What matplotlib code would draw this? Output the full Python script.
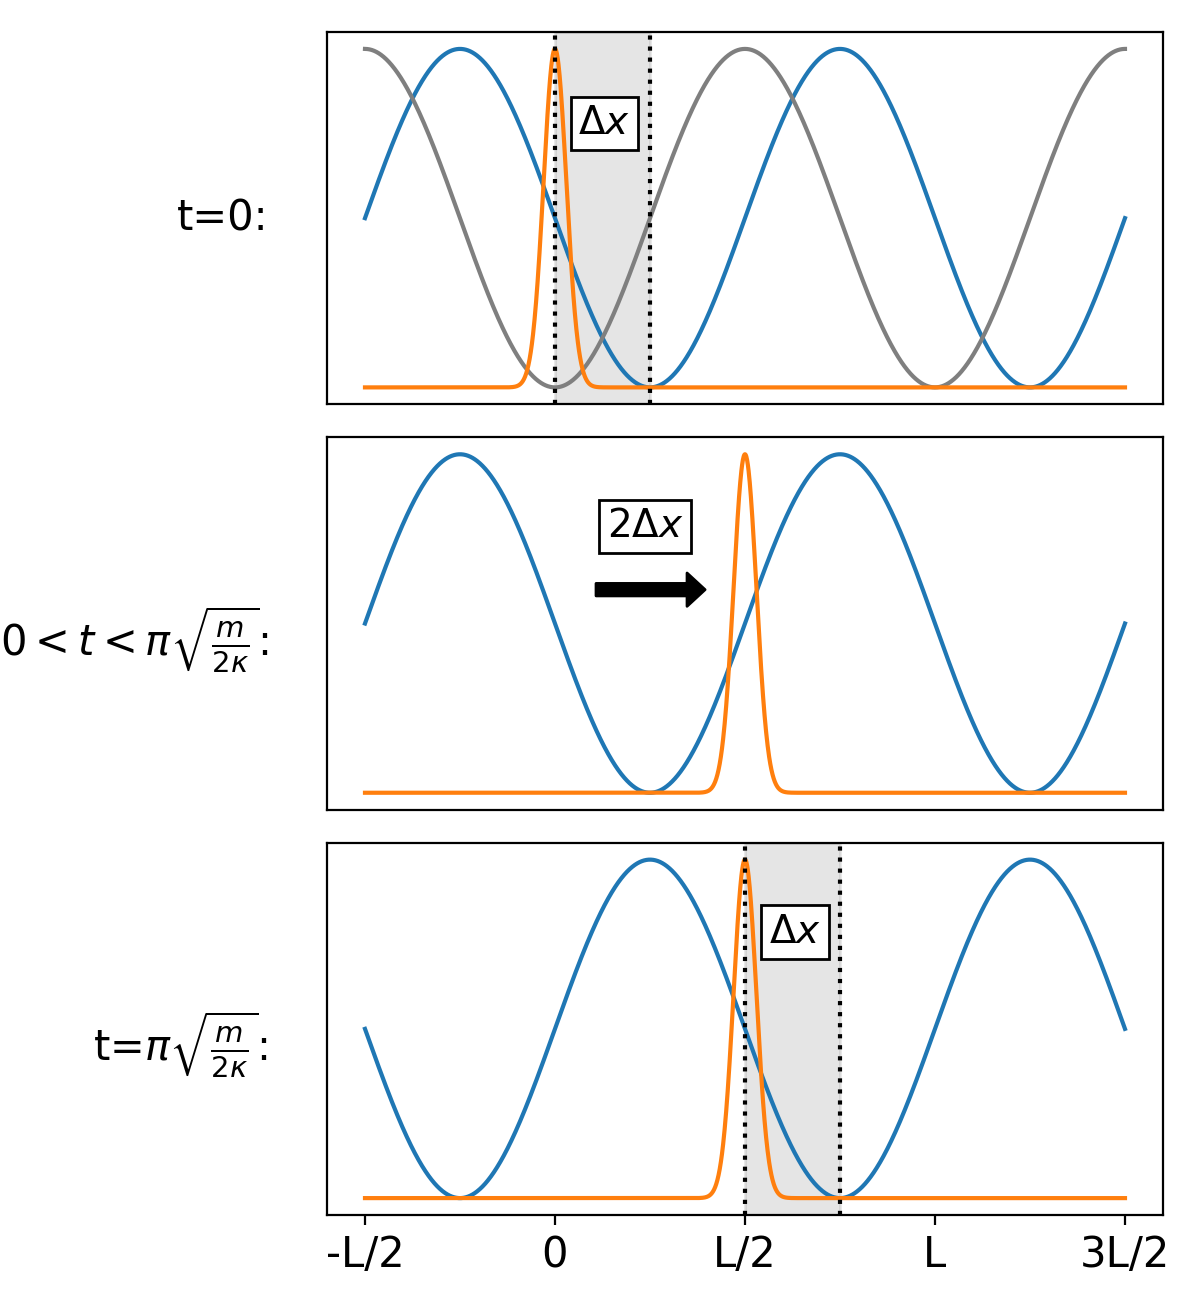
import matplotlib
matplotlib.use("Agg")
import matplotlib.pyplot as plt
import numpy as np


# x positions in units of L
X_MIN, X_MAX = -0.5, 1.5
x_ticks = [-0.5, 0.0, 0.5, 1.0, 1.5]
x_ticklabels = ["-L/2", "0", "L/2", "L", "3L/2"]

# one entry per panel (top, middle, bottom)
row_labels = [
    "t=0:",
    r"$0 < t < \pi\sqrt{\frac{m}{2\kappa}}$:",
    r"t=$\pi\sqrt{\frac{m}{2\kappa}}$:",
]
row_label_y = [0.5, 0.455, 0.455]
wave_sign = [-1, -1, 1]          # blue potential: (1 + sign*sin(2 pi x)) / 2
show_gray = [True, False, False]  # gray potential: (1 - cos(2 pi x)) / 2
pulse_center = [0.0, 0.5, 0.5]
pulse_sigma = 0.03
spans = [(0.0, 0.25), None, (0.5, 0.75)]
box_text = [r"$\Delta x$", r"$2\Delta x$", r"$\Delta x$"]
box_xy = [(0.13, 0.78), (0.237, 0.787), (0.632, 0.787)]
arrow_start = (0.108, 0.60)
arrow_end = (0.395, 0.60)


def draw_panel(ax, i, x):
    blue = (1 + wave_sign[i] * np.sin(2 * np.pi * x)) / 2
    ax.plot(x, blue, color="tab:blue", linewidth=1.5)
    if show_gray[i]:
        gray = (1 - np.cos(2 * np.pi * x)) / 2
        ax.plot(x, gray, color="tab:gray", linewidth=1.5)
    pulse = np.exp(-((x - pulse_center[i]) ** 2) / (2 * pulse_sigma ** 2))
    ax.plot(x, pulse, color="tab:orange", linewidth=1.5)

    if spans[i] is not None:
        a, b = spans[i]
        ax.axvspan(a, b, color="gray", alpha=0.2)
        ax.axvline(a, color="k", linestyle=":", linewidth=1.5)
        ax.axvline(b, color="k", linestyle=":", linewidth=1.5)

    ax.text(
        box_xy[i][0],
        box_xy[i][1],
        box_text[i],
        fontsize=14,
        ha="center",
        va="center",
        bbox=dict(boxstyle="square,pad=0.2", facecolor="white", edgecolor="black"),
    )

    ax.text(
        -0.07,
        row_label_y[i],
        row_labels[i],
        transform=ax.transAxes,
        fontsize=15,
        ha="right",
        va="center",
    )
    ax.set_yticks([])


def main():
    x = np.linspace(X_MIN, X_MAX, 2000)
    fig, axes = plt.subplots(3, 1, figsize=(5.98, 6.555), sharex=True)
    fig.subplots_adjust(left=0.2734, right=0.9724, top=0.9756, bottom=0.0732, hspace=0.0887)

    for i, ax in enumerate(axes):
        draw_panel(ax, i, x)

    axes[1].annotate(
        "",
        xy=arrow_end,
        xytext=arrow_start,
        arrowprops=dict(facecolor="black", edgecolor="black", width=4.5, headwidth=12, headlength=6.5, shrink=0.0),
    )

    axes[2].set_xticks(x_ticks)
    axes[2].set_xticklabels(x_ticklabels, fontsize=15)
    for ax in axes[:2]:
        ax.tick_params(axis="x", bottom=False, labelbottom=False)

    fig.savefig("out.png", dpi=200)
    plt.close(fig)


if __name__ == "__main__":
    main()
